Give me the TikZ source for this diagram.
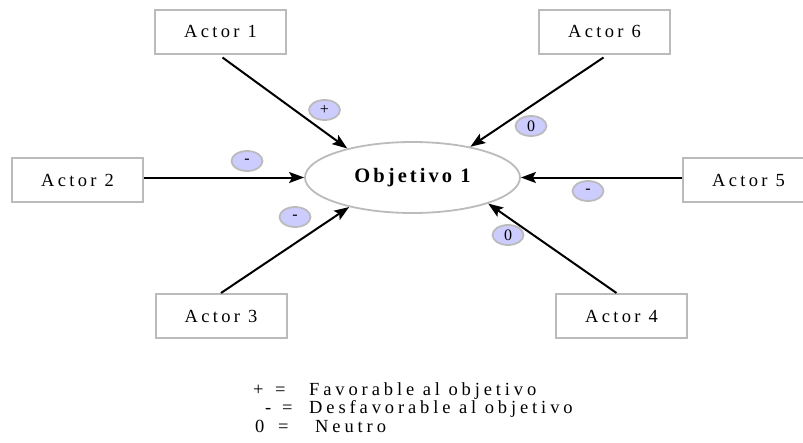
\documentclass[tikz,border=0pt]{standalone}
\usepackage{fontspec}
\setmainfont{Liberation Serif}
\newfontfamily\spaced[LetterSpace=18]{Liberation Serif}
\newfontfamily\spacedl[LetterSpace=21]{Liberation Serif}
\newfontfamily\spacedb[LetterSpace=15]{Liberation Serif}
\usetikzlibrary{arrows.meta,shapes.geometric}
\definecolor{boxgray}{HTML}{BBBBBB}
\definecolor{lav}{HTML}{CCCCFF}
\tikzset{
  actor/.style={draw=boxgray, line width=2pt, fill=white, minimum width=131pt, minimum height=44pt, inner sep=0pt, font=\fontsize{18.5}{20}\selectfont\spaced},
  goal/.style={ellipse, draw=boxgray, line width=1.8pt, minimum width=215pt, minimum height=71pt, inner sep=0pt, font=\fontsize{20.5}{22}\selectfont\spacedb\bfseries},
  sign/.style={ellipse, draw=boxgray, fill=lav, line width=1.8pt, minimum width=31pt, minimum height=20pt, inner sep=0pt, font=\fontsize{16}{16}\selectfont},
  link/.style={line width=2pt, -{Stealth[length=15pt,width=11pt,inset=3pt]}},
  legend/.style={anchor=base west, inner sep=0pt, font=\fontsize{18.5}{20}\selectfont\spacedl}
}
\begin{document}
\begin{tikzpicture}[x=1pt,y=-1pt]
\useasboundingbox (0,0) rectangle (803,442);
\node[goal] (obj) at (412.5,177.5) {Objetivo 1};
\node[actor] (a1) at (220.5,31.5) {Actor 1};
\node[actor] (a6) at (604.5,31.5) {Actor 6};
\node[actor] (a2) at (77.5,180) {Actor 2};
\node[actor] (a5) at (748.5,180) {Actor 5};
\node[actor] (a3) at (221,316) {Actor 3};
\node[actor] (a4) at (621.5,316) {Actor 4};

\draw[link] ([xshift=2pt,yshift=-3pt]a1.south) -- (obj.156);
\draw[link] ([xshift=-1pt,yshift=-3pt]a6.south) -- (obj.28);
\draw[link] ([yshift=2.5pt]a2.east) -- (obj.west);
\draw[link] ([yshift=2.5pt]a5.west) -- (obj.east);
\draw[link] (a3.north) -- (obj.205);
\draw[link] ([xshift=-5pt]a4.north) -- (obj.341);

\node[sign] (s1) at (324.5,110) {+};
\node[sign] (s6) at (531,126) {0};
\node[sign] (s2) at (247,161) {-};
\node[sign] (s5) at (588,191) {-};
\node[sign] (s3) at (295,217) {-};
\node[sign] (s4) at (508,235) {0};

\node[legend] (l1a) at (253,395) {+};
\node[legend] (l1b) at (275,395) {=};
\node[legend] (l1c) at (309,395) {Favorable al objetivo};
\node[legend] (l2a) at (265,413) {-};
\node[legend] (l2b) at (282,413) {=};
\node[legend] (l2c) at (309,413) {Desfavorable al objetivo};
\node[legend] (l3a) at (255,432) {0};
\node[legend] (l3b) at (278,432) {=};
\node[legend] (l3c) at (315,432) {Neutro};
\end{tikzpicture}
\end{document}
